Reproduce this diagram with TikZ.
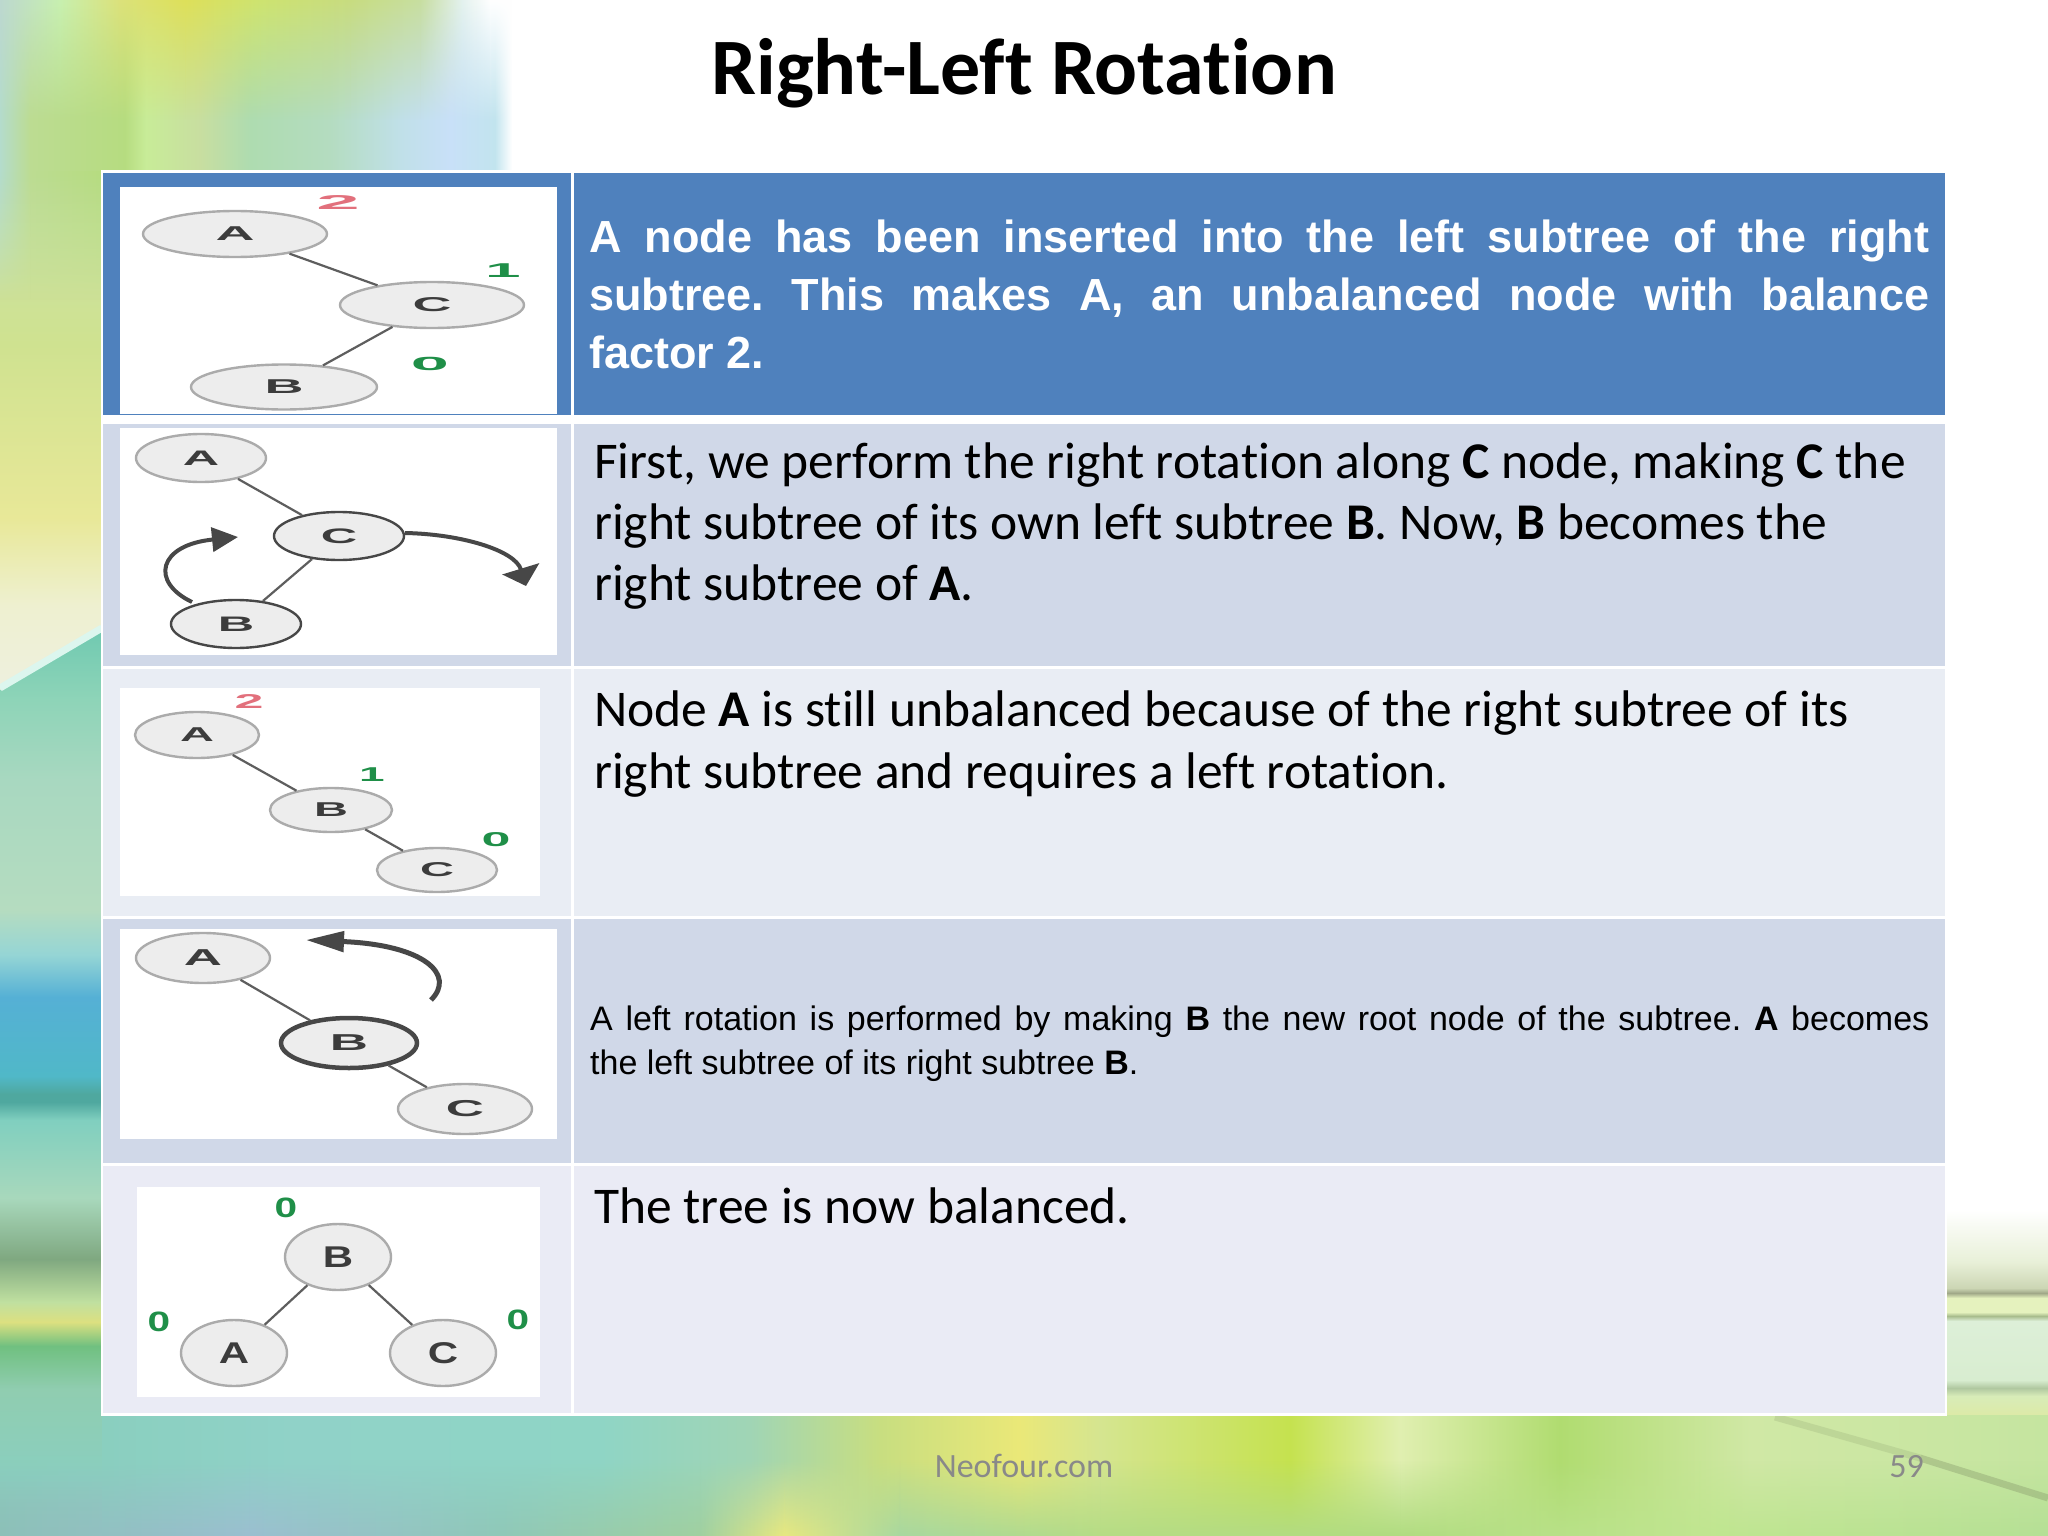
\documentclass[tikz,border=0pt]{standalone}
\usepackage{fontspec}
\usepackage{graphicx}
\setmainfont[Ligatures=NoCommon]{Carlito}
\newfontfamily\arialf{Liberation Sans}
\usetikzlibrary{shapes.geometric,arrows.meta,fadings}
\tikzfading[name=fadedown, top color=transparent!0, bottom color=transparent!100]
\tikzfading[name=fadeup, top color=transparent!100, bottom color=transparent!0]
\definecolor{hdr}{HTML}{4F81BD}
\definecolor{rowa}{HTML}{D0D8E8}
\definecolor{rowb}{HTML}{E9EDF4}
\definecolor{rowc}{HTML}{EAEBF5}
\definecolor{nfill}{HTML}{EDEDED}
\definecolor{nline}{HTML}{ABABAB}
\definecolor{nink}{HTML}{3C3C3C}
\definecolor{edgec}{HTML}{5E5E5E}
\definecolor{numr}{HTML}{E2707C}
\definecolor{numg}{HTML}{1F8F48}
\definecolor{footc}{HTML}{898989}
\definecolor{waveline}{HTML}{DCF6EE}
\definecolor{stripe}{HTML}{889A6C}
\newcommand\hgrad[6]{%
  \foreach \xx/\cc [remember=\xx as \lx (initially #4), remember=\cc as \lc (initially #5)] in {#6} {%
    \edef\tmpcol{\noexpand\definecolor{ca}{HTML}{\lc}\noexpand\definecolor{cb}{HTML}{\cc}}\tmpcol
    \shade[left color=ca,right color=cb,#3] (\lx,#1) rectangle (\xx,#2);
  }}
\newcommand\vgrad[6]{%
  \foreach \yy/\cc [remember=\yy as \ly (initially #4), remember=\cc as \lc (initially #5)] in {#6} {%
    \edef\tmpcol{\noexpand\definecolor{ca}{HTML}{\lc}\noexpand\definecolor{cb}{HTML}{\cc}}\tmpcol
    \shade[top color=ca,bottom color=cb,#3] (#1,\ly) rectangle (#2,\yy);
  }}
\newcommand\tx[3]{\scalebox{#2}[1]{\fontsize{#1}{#1}\selectfont\arialf\bfseries #3}}
\newcommand\bodystart{\spaceskip=0pt\xspaceskip=0pt\rule{0pt}{40pt}}
\tikzset{
  rowfill/.style={fill=#1},
  treenode/.style 2 args={ellipse,draw=nline,fill=nfill,line width=2.4pt,inner sep=0pt,
    minimum width=#1,minimum height=#2,text=nink},
  darknode/.style={draw=black!72},
  treeedge/.style={draw=edgec,line width=2.2pt},
  rotarrow/.style={draw=black!72,line width=4pt},
  numlabel/.style={inner sep=0pt,text=#1},
  bodytext/.style={anchor=north west,inner sep=0pt,text width=1340pt,align=left,
    font=\fontsize{51.5}{61.2}\selectfont},
  headtext/.style={anchor=north west,inner sep=0pt,text width=1340pt,align=justify,text=white,
    font=\arialf\bfseries\fontsize{45}{58.3}\selectfont},
  smalltext/.style={anchor=north west,inner sep=0pt,text width=1339pt,align=justify,
    font=\arialf\fontsize{34}{44}\selectfont},
  foottext/.style={anchor=base,inner sep=0pt,text=footc,font=\fontsize{34}{34}\selectfont},
  titletext/.style={anchor=base,inner sep=0pt,font=\bfseries\fontsize{80}{84}\selectfont},
}
\begin{document}
\frenchspacing
\begin{tikzpicture}[x=1pt,y=-1pt]
\useasboundingbox (0,0) rectangle (2048,1536);
\fill[white] (0,0) rectangle (2048,1536);
% --- background: top
\hgrad{0}{173}{}{0}{B4DCCC}{30/BCDC92,125/B6DC80,146/C8EC98,200/C8DEA0,250/AEDCB0,330/B4DCC0,400/C0E0E8,450/C8E0F8,495/C2E4EE,512/FFFFFF}
\hgrad{0}{120}{path fading=fadedown}{0}{BDD8D0}{60/C8F0B0,120/DCE27A,185/DEE05A,260/CEE470,350/C8DC80,420/C8DEA0,462/E4F2EE,490/FFFFFF,512/FFFFFF}
% --- background: left strip
\vgrad{0}{102}{}{620}{6CC8B0}{700/8ED4B8,780/A8D8C0,910/B5DCC0,955/95D5D5,997/55B0D5,1076/50B8C8,1094/4FA89F,1102/4FA89F,1120/80CFBF,1198/A8D8BC,1259/7FA880,1302/C0E0A0,1322/DCE080,1346/70C080,1389/90CDB0,1477/8ACFBF,1536/92C6BC}
\begin{scope}
\clip (0,172) -- (102,172) -- (102,630) -- (0,690) -- cycle;
\vgrad{0}{102}{}{172}{C8E0A8}{344/CFE290,518/E8E898,605/EEF0D0,700/EEF0E0}
\end{scope}
\hgrad{172}{300}{path fading=fadedown}{0}{B4DCCC}{30/BCDC92,102/B6DC80}
\draw[draw=waveline,line width=7pt] (0,688) -- (102,628);
% --- background: bottom band
\hgrad{1414}{1536}{}{102}{8ACFBF}{300/90D2C8,600/8FD5C5,750/A0D5B5,880/C8DE80,1019/EAE878,1100/D5E590,1290/C5E24F,1400/E0EFB0,1560/B0DC70,1750/D0E8A5,2048/C5E5A0}
\hgrad{1460}{1536}{path fading=fadeup}{0}{8CC0B8}{250/9BBFD0,500/90C8B8,700/A0D0A0,784/E8E880,900/A8D8A0,1100/B5DC85,1400/B0DC80,1700/C0E690,2048/B5E095}
% --- background: right strip
\vgrad{1947}{2048}{}{1210}{FFFFFF}{1262/E8F0D8,1288/CCD6B4,1293/A0A888,1298/E5F2BE,1312/E5F2BE,1316/A8BC8C,1321/DDEFD8,1380/D8EDD0,1388/B0C8A0,1396/D8ECB8,1414/DCEAA8}
\draw[draw=stripe,opacity=.22,line width=7pt] (1775,1417) -- (1920,1458);
\draw[draw=stripe,opacity=.4,line width=7pt] (1920,1458) -- (2048,1498);
% --- table
\fill[white] (100.5,170) rectangle (1947,1416);
\fill[rowfill=hdr]  (103,172.5) rectangle (571,415);
\fill[rowfill=hdr]  (574,172.5) rectangle (1945,415);
\fill[rowfill=rowa] (103,424) rectangle (571,666);
\fill[rowfill=rowa] (574,424) rectangle (1945,666);
\fill[rowfill=rowb] (103,669) rectangle (571,915.5);
\fill[rowfill=rowb] (574,669) rectangle (1945,915.5);
\fill[rowfill=rowa] (103,918.5) rectangle (571,1163);
\fill[rowfill=rowa] (574,918.5) rectangle (1945,1163);
\fill[rowfill=rowc] (103,1165.5) rectangle (571,1413);
\fill[rowfill=rowc] (574,1165.5) rectangle (1945,1413);
% --- picture panels
\fill[white] (120,187) rectangle (557,414);
\fill[white] (120,428) rectangle (557,655);
\fill[white] (120,688) rectangle (540,896);
\fill[white] (120,929) rectangle (557,1139);
\fill[white] (137,1187) rectangle (540,1397);
% --- tree 1
\node[treenode={184pt}{46pt}] (a1) at (235,234) {\tx{20}{2.7}{A}};
\node[treenode={184pt}{46pt}] (c1) at (432,305) {\tx{20}{2.7}{C}};
\node[treenode={186pt}{45pt}] (b1) at (284,387) {\tx{20}{2.7}{B}};
\draw[treeedge] (a1) -- (c1);
\draw[treeedge] (c1) -- (b1);
\node[numlabel=numr] (n1a) at (338,203) {\tx{20}{3.9}{2}};
\node[numlabel=numg] (n1c) at (503,271) {\tx{20}{3.2}{1}};
\node[numlabel=numg] (n1b) at (430,364) {\tx{19}{3.6}{0}};
% --- tree 2
\node[treenode={130pt}{48pt}] (a2) at (201,458) {\tx{21}{2.4}{A}};
\node[treenode={130pt}{48pt},darknode] (c2) at (339,536) {\tx{21}{2.4}{C}};
\node[treenode={130pt}{48pt},darknode] (b2) at (236,624) {\tx{21}{2.4}{B}};
\draw[treeedge] (a2) -- (c2);
\draw[treeedge] (c2) -- (b2);
\coordinate (l2s) at (192,602);
\coordinate (l2e) at (238,537);
\coordinate (r2s) at (405,533);
\coordinate (r2e) at (526,586);
\draw[rotarrow,-{Triangle[width=24pt,length=26pt]}] (l2s) .. controls (150,582) and (158,545) .. (l2e);
\draw[rotarrow,-{Triangle[width=38pt,length=18pt]}] (r2s) .. controls (460,534) and (515,550) .. (r2e);
% --- tree 3
\node[treenode={124pt}{46pt}] (a3) at (197,735) {\tx{20}{2.35}{A}};
\node[treenode={122pt}{44pt}] (b3) at (331,810) {\tx{20}{2.35}{B}};
\node[treenode={120pt}{44pt}] (c3) at (437,870) {\tx{20}{2.35}{C}};
\draw[treeedge] (a3) -- (b3);
\draw[treeedge] (b3) -- (c3);
\node[numlabel=numr] (n3a) at (249,702) {\tx{20}{2.6}{2}};
\node[numlabel=numg] (n3b) at (372,775) {\tx{20}{2.3}{1}};
\node[numlabel=numg] (n3c) at (496,840) {\tx{20}{2.6}{0}};
% --- tree 4
\node[treenode={134pt}{50pt}] (a4) at (203,958) {\tx{23}{2.3}{A}};
\node[treenode={136pt}{50pt},darknode,line width=4.5pt] (b4) at (349,1043) {\tx{23}{2.3}{B}};
\node[treenode={134pt}{50pt}] (c4) at (465,1109) {\tx{23}{2.3}{C}};
\draw[treeedge] (a4) -- (b4);
\draw[treeedge] (b4) -- (c4);
\coordinate (r4s) at (431,1000);
\coordinate (r4e) at (306,940);
\draw[rotarrow,line width=5pt,-{Triangle[width=20pt,length=38pt]}] (r4s) .. controls (456,975) and (425,945) .. (r4e);
% --- tree 5
\node[treenode={106pt}{66pt}] (b5) at (338,1257) {\tx{30}{1.4}{B}};
\node[treenode={106pt}{66pt}] (a5) at (234,1353) {\tx{30}{1.4}{A}};
\node[treenode={106pt}{66pt}] (c5) at (443,1353) {\tx{30}{1.4}{C}};
\draw[treeedge] (b5) -- (a5);
\draw[treeedge] (b5) -- (c5);
\node[numlabel=numg] (n5b) at (286,1208) {\tx{28}{1.45}{0}};
\node[numlabel=numg] (n5a) at (159,1322) {\tx{28}{1.45}{0}};
\node[numlabel=numg] (n5c) at (518,1320) {\tx{28}{1.45}{0}};
% --- text
\node[titletext] (title) at (1024,95) {Right-Left Rotation};
\node[headtext] (t1) at (589,212) {\rule{0pt}{40pt}\tolerance=10000 A node has been inserted into the left subtree of the right\linebreak subtree. This makes A, an unbalanced node with balance\linebreak factor 2.};
\node[bodytext] (t2) at (594,438) {\bodystart First, we perform the right rotation along \textbf{C} node, making \textbf{C} the\\right subtree of its own left subtree \textbf{B}. Now, \textbf{B} becomes the\\right subtree of \textbf{A}.};
\node[bodytext] (t3) at (594,686.7) {\bodystart Node \textbf{A} is still unbalanced because of the right subtree of its\\right subtree and requires a left rotation.};
\node[smalltext] (t4) at (590,990) {\rule{0pt}{40pt}\tolerance=10000 A left rotation is performed by making \textbf{B} the new root node of the subtree. \textbf{A} becomes\linebreak the left subtree of its right subtree \textbf{B}.};
\node[bodytext] (t5) at (594,1183) {\bodystart The tree is now balanced.};
\node[foottext] (foot) at (1024,1477) {Neofour.com};
\node[foottext,anchor=base east] (page) at (1924,1477) {59};
\end{tikzpicture}
\end{document}
